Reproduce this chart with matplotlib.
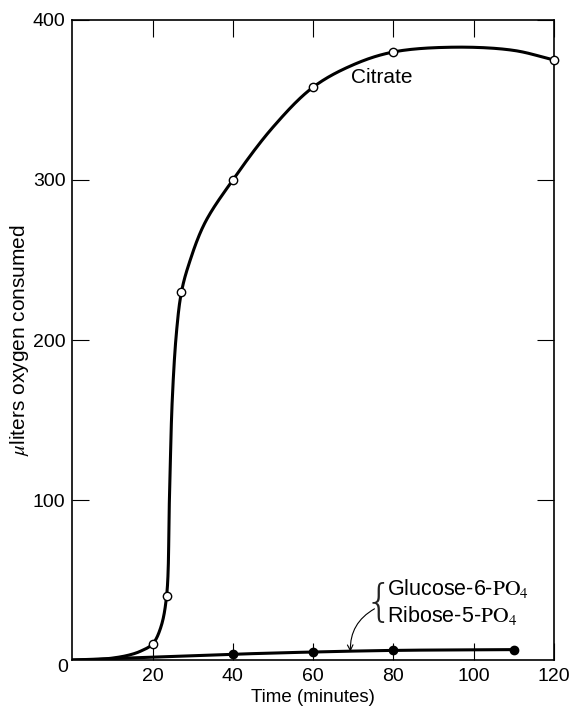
import numpy as np
import matplotlib
matplotlib.use("Agg")
import matplotlib.pyplot as plt

plt.rcParams["font.family"] = ["Liberation Sans", "DejaVu Sans"]
plt.rcParams["mathtext.fontset"] = "stix"

# Measured points
citrate_t = [20, 23.5, 27, 40, 60, 80, 120]
citrate_o2 = [10, 40, 230, 300, 358, 380, 375]

phosphate_t = [40, 60, 80, 110]
phosphate_o2 = [4, 5, 6, 6.5]

# Hand-drawn smooth curves (knots along each drawn line)
citrate_curve_t = [0, 6, 10, 14, 17, 20, 22, 23.5, 24.2, 24.9, 26, 27.2, 29,
                   33, 40, 50, 60, 70, 80, 95, 110, 120]
citrate_curve_o2 = [0, 0.3, 1.2, 3, 5.5, 10, 20, 40, 100, 162, 206, 230, 247,
                    273, 300, 333, 358, 372, 380, 383, 381, 375]

phosphate_curve_t = [0, 20, 40, 60, 80, 110]
phosphate_curve_o2 = [0, 1.8, 3.6, 5, 6, 6.5]

x_ticks = [20, 40, 60, 80, 100, 120]
y_ticks = [100, 200, 300, 400]


def smooth(xs, ys, sx, sy, n=30):
    """Centripetal Catmull-Rom through the knots, computed in scaled space."""
    p = np.column_stack([np.asarray(xs, float) / sx, np.asarray(ys, float) / sy])
    p = np.vstack([2 * p[0] - p[1], p, 2 * p[-1] - p[-2]])
    out = []
    for i in range(1, len(p) - 2):
        p0, p1, p2, p3 = p[i - 1], p[i], p[i + 1], p[i + 2]
        def tj(ti, a, b):
            return ti + max(np.linalg.norm(b - a), 1e-9) ** 0.5
        t0 = 0.0
        t1 = tj(t0, p0, p1)
        t2 = tj(t1, p1, p2)
        t3 = tj(t2, p2, p3)
        t = np.linspace(t1, t2, n)[:, None]
        a1 = (t1 - t) / (t1 - t0) * p0 + (t - t0) / (t1 - t0) * p1
        a2 = (t2 - t) / (t2 - t1) * p1 + (t - t1) / (t2 - t1) * p2
        a3 = (t3 - t) / (t3 - t2) * p2 + (t - t2) / (t3 - t2) * p3
        b1 = (t2 - t) / (t2 - t0) * a1 + (t - t0) / (t2 - t0) * a2
        b2 = (t3 - t) / (t3 - t1) * a2 + (t - t1) / (t3 - t1) * a3
        c = (t2 - t) / (t2 - t1) * b1 + (t - t1) / (t2 - t1) * b2
        out.append(c if i == 1 else c[1:])
    c = np.vstack(out)
    return c[:, 0] * sx, c[:, 1] * sy


fig = plt.figure(figsize=(5.71, 7.09), dpi=100)
ax = fig.add_axes([0.1266, 0.0691, 0.8434, 0.9027])

ax.set_xlim(0, 120)
ax.set_ylim(0, 400)

# y scaled so that one unit in each axis has similar screen length
cx, cy = smooth(citrate_curve_t, citrate_curve_o2, 120.0, 400.0 * 482 / 640)
ax.plot(cx, cy, color="black", lw=2.2, solid_capstyle="round", zorder=3)
gx, gy = smooth(phosphate_curve_t, phosphate_curve_o2, 120.0, 400.0 * 482 / 640)
ax.plot(gx, gy, color="black", lw=2.2, solid_capstyle="round", zorder=3)

ax.plot(citrate_t, citrate_o2, "o", ms=6, mfc="white", mec="black", mew=1.0,
        zorder=5, clip_on=False)
ax.plot(phosphate_t, phosphate_o2, "o", ms=6, mfc="black", mec="black",
        zorder=5, clip_on=False)

for s in ax.spines.values():
    s.set_linewidth(1.2)

ax.set_xticks(x_ticks)
ax.set_yticks(y_ticks)
ax.set_xticklabels([str(v) for v in x_ticks])
ax.set_yticklabels([str(v) for v in y_ticks])
ax.tick_params(direction="in", length=12, width=0.8, top=True, right=True,
               labelsize=14, color="black")
ax.tick_params(axis="x", pad=6)
ax.tick_params(axis="y", pad=5)
ax.text(-2.4, -4.5, "0", fontsize=14, ha="center", va="center")

ax.set_xlabel("Time (minutes)", fontsize=13.5, va="center")
ax.xaxis.set_label_coords(0.5, -0.058)
ax.set_ylabel(r"$\mu$liters oxygen consumed", fontsize=15, ha="center", va="center")
ax.yaxis.set_label_coords(-0.109, 0.5)

ax.text(69.5, 364, "Citrate", fontsize=15, ha="left", va="center")

ax.text(76.4, 35.5, "{", fontsize=32, ha="center", va="center",
        family="DejaVu Sans", fontweight="ultralight", color="#222222")
ax.text(78.5, 44.5, r"Glucose-6-$\mathrm{PO}_4$", fontsize=15.5, ha="left", va="center")
ax.text(78.5, 28, r"Ribose-5-$\mathrm{PO}_4$", fontsize=15.5, ha="left", va="center")
ax.annotate("", xy=(69.3, 5.2), xytext=(75.3, 32),
            arrowprops=dict(arrowstyle="->", color="black", lw=0.8,
                            connectionstyle="arc3,rad=0.3",
                            shrinkA=0, shrinkB=0))

fig.savefig("out.png", dpi=100)
